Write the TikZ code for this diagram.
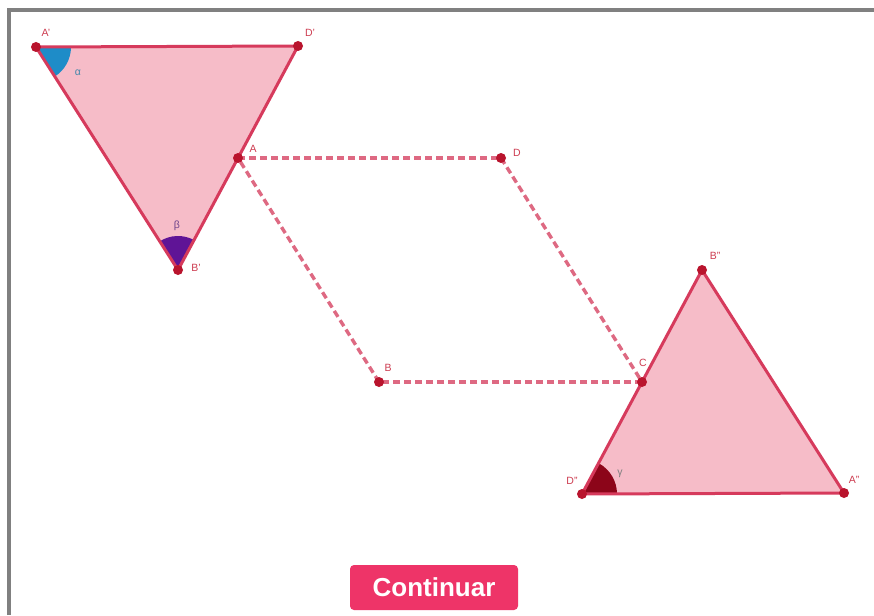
\documentclass[tikz,border=0pt]{standalone}
\usepackage{fontspec}
\setmainfont{Liberation Sans}
\definecolor{trifill}{RGB}{246,188,200}
\definecolor{triedge}{RGB}{214,58,92}
\definecolor{dashcol}{RGB}{222,105,130}
\definecolor{dotcol}{RGB}{185,20,45}
\definecolor{labcol}{RGB}{205,60,80}
\definecolor{alphacol}{RGB}{30,140,200}
\definecolor{betacol}{RGB}{95,20,150}
\definecolor{gammacol}{RGB}{140,5,25}
\definecolor{framegray}{RGB}{128,128,128}
\definecolor{btncol}{RGB}{238,52,104}
\tikzset{
  tri/.style={fill=trifill, draw=triedge, line width=3pt, line join=round},
  dashline/.style={draw=dashcol, line width=3.4pt, dash pattern=on 7pt off 4pt},
  dot/.style={circle, fill=dotcol, inner sep=0pt, minimum size=10pt},
  lab/.style={text=labcol, font=\fontsize{10.5}{12}\selectfont, inner sep=0pt},
  glab/.style={font=\fontsize{10.5}{12}\selectfont, inner sep=0pt},
  button/.style={fill=btncol, rounded corners=4pt, minimum width=168pt, minimum height=45pt,
    text=white, font=\fontsize{26}{30}\selectfont\bfseries, inner sep=0pt}
}
\begin{document}
\begin{tikzpicture}[x=1pt,y=-1pt]
\useasboundingbox (0,0) rectangle (874,615);
\fill[white] (0,0) rectangle (874,615);
% frame
\draw[framegray, line width=3.5pt] (9,615) -- (9,10) -- (874,10);
% points
\coordinate (Ap) at (36,47);
\coordinate (Dp) at (298,46);
\coordinate (Bp) at (178,270);
\coordinate (A) at (238,158);
\coordinate (D) at (501,158);
\coordinate (B) at (379,382);
\coordinate (C) at (642,382);
\coordinate (App) at (844,493);
\coordinate (Dpp) at (582,494);
\coordinate (Bpp) at (702,270);
% triangle fills
\fill[trifill] (Ap) -- (Dp) -- (Bp) -- cycle;
\fill[trifill] (App) -- (Dpp) -- (Bpp) -- cycle;
% angle sectors
\fill[alphacol] (Ap) -- ++(0:35) arc[start angle=0, end angle=57.5, radius=35] -- cycle;
\fill[betacol] (Bp) -- ++(-122.5:34) arc[start angle=-122.5, end angle=-61.8, radius=34] -- cycle;
\fill[gammacol] (Dpp) -- ++(-61.8:35) arc[start angle=-61.8, end angle=0, radius=35] -- cycle;
% triangle edges
\draw[tri, fill=none] (Ap) -- (Dp) -- (Bp) -- cycle;
\draw[tri, fill=none] (App) -- (Dpp) -- (Bpp) -- cycle;
% dashed parallelogram
\draw[dashline] (A) -- (D);
\draw[dashline] (D) -- (C);
\draw[dashline] (C) -- (B);
\draw[dashline] (B) -- (A);
% dots
\foreach \p in {Ap,Dp,Bp,A,D,B,C,App,Dpp,Bpp} \node[dot] (dot\p) at (\p) {};
% labels
\node[lab] (lAp) at (46,33) {A'};
\node[lab] (lDp) at (310,33) {D'};
\node[lab] (lBp) at (196,268) {B'};
\node[lab] (lA) at (253,149) {A};
\node[lab] (lD) at (517,153) {D};
\node[lab] (lB) at (388,368) {B};
\node[lab] (lC) at (643,363) {C};
\node[lab] (lBpp) at (715,256) {B''};
\node[lab] (lDpp) at (572,481) {D''};
\node[lab] (lApp) at (854,480) {A''};
\node[glab, text=alphacol!60!gray] (lalpha) at (78,73) {α};
\node[glab, text=betacol!55!gray] (lbeta) at (177,226) {β};
\node[glab, text=gray] (lgamma) at (620,474) {γ};
% button
\node[button] (btn) at (434,587.5) {Continuar};
\end{tikzpicture}
\end{document}
